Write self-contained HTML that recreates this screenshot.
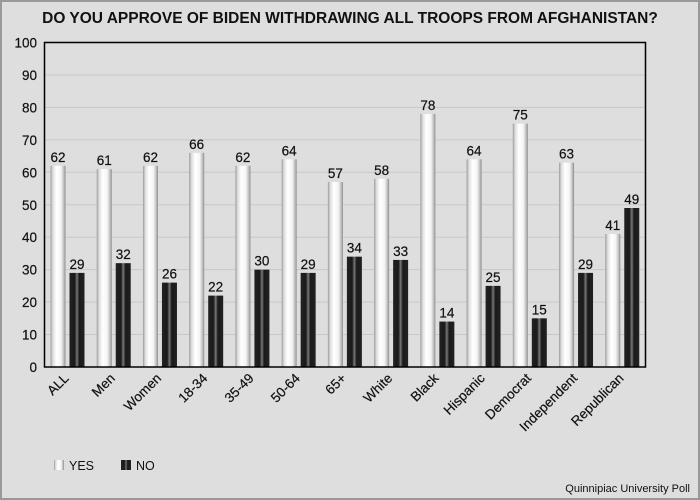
<!DOCTYPE html>
<html><head><meta charset="utf-8"><style>
body{margin:0;background:#dedede;}
svg{display:block;font-family:"Liberation Sans",sans-serif;}
</style></head><body>
<svg id="c" width="700" height="500" xmlns="http://www.w3.org/2000/svg">
<defs>
<linearGradient id="gy" x1="0" x2="1" y1="0" y2="0">
<stop offset="0" stop-color="#999"/><stop offset="0.15" stop-color="#ddd"/><stop offset="0.4" stop-color="#fff"/><stop offset="0.7" stop-color="#f4f4f4"/><stop offset="0.9" stop-color="#bbb"/><stop offset="1" stop-color="#888"/>
</linearGradient>
<linearGradient id="gn" x1="0" x2="1" y1="0" y2="0">
<stop offset="0" stop-color="#222"/><stop offset="0.35" stop-color="#1a1a1a"/><stop offset="0.5" stop-color="#777"/><stop offset="0.65" stop-color="#1a1a1a"/><stop offset="1" stop-color="#222"/>
</linearGradient>
</defs>
<rect x="1" y="1" width="698" height="498" fill="#dedede" stroke="#999" stroke-width="2"/>
<text x="350" y="23" text-anchor="middle" font-size="15.5" font-weight="bold" fill="#111">DO YOU APPROVE OF BIDEN WITHDRAWING ALL TROOPS FROM AFGHANISTAN?</text>
<g id="grid"></g><g id="bars"></g><g id="labels"></g>
<rect x="44.5" y="42.5" width="601" height="324.5" fill="none" stroke="#000" stroke-width="1.5"/>
<g>
<rect x="54" y="460" width="10" height="10" fill="url(#gy)"/>
<text x="69" y="470" font-size="12.5" fill="#111">YES</text>
<rect x="121" y="460" width="10" height="10" fill="url(#gn)"/>
<text x="136" y="470" font-size="12.5" fill="#111">NO</text>
</g>
<text x="690" y="492" text-anchor="end" font-size="11" fill="#111">Quinnipiac University Poll</text>
</svg>
<script>
const categories=["ALL","Men","Women","18-34","35-49","50-64","65+","White","Black","Hispanic","Democrat","Independent","Republican"];
const yesValues=[62,61,62,66,62,64,57,58,78,64,75,63,41];
const noValues=[29,32,26,22,30,29,34,33,14,25,15,29,49];
const yTicks=[0,10,20,30,40,50,60,70,80,90,100];
const NS="http://www.w3.org/2000/svg";
const X0=44.5,X1=645.5,Y0=367,Y1=42.5;
const gw=(X1-X0)/categories.length;
function y(v){return Y0-(v/100)*(Y0-Y1);}
function gx(i){return X0+i*gw;}
function mk(t,a,p){const e=document.createElementNS(NS,t);for(const k in a)e.setAttribute(k,a[k]);p.appendChild(e);return e;}
const grid=document.getElementById('grid'),bars=document.getElementById('bars'),labels=document.getElementById('labels');
yTicks.forEach(t=>{
 if(t>0&&t<100){const l=mk('line',{x1:X0,x2:X1,y1:y(t),y2:y(t),stroke:'#c8c8c8','stroke-width':1},grid);
 
 }
 const tx=mk('text',{x:37,y:y(t)+5,'text-anchor':'end','font-size':13.5,fill:'#111',stroke:'#111','stroke-width':0.2},labels);
 tx.textContent=t;
 
 
});
categories.forEach((c,i)=>{
 const xs=gx(i);
 [[yesValues[i],6,'url(#gy)','yes'],[noValues[i],25,'url(#gn)','no']].forEach(([v,off,f,s])=>{
  const r=mk('rect',{x:xs+off,y:y(v),width:15,height:Y0-y(v),fill:f},bars);
  
  
  const t=mk('text',{x:xs+off+7.5,y:y(v)-4,'text-anchor':'middle','font-size':13.5,fill:'#111',stroke:'#111','stroke-width':0.2},labels);
  t.textContent=v;
  
  
 });
 const cx=xs+gw/2+2;
 const t=mk('text',{x:cx,y:379,'text-anchor':'end','font-size':13.5,fill:'#111',stroke:'#111','stroke-width':0.2,transform:`rotate(-45 ${cx} 379)`},labels);
 t.textContent=c;
 
 
});
</script>
</body></html>
